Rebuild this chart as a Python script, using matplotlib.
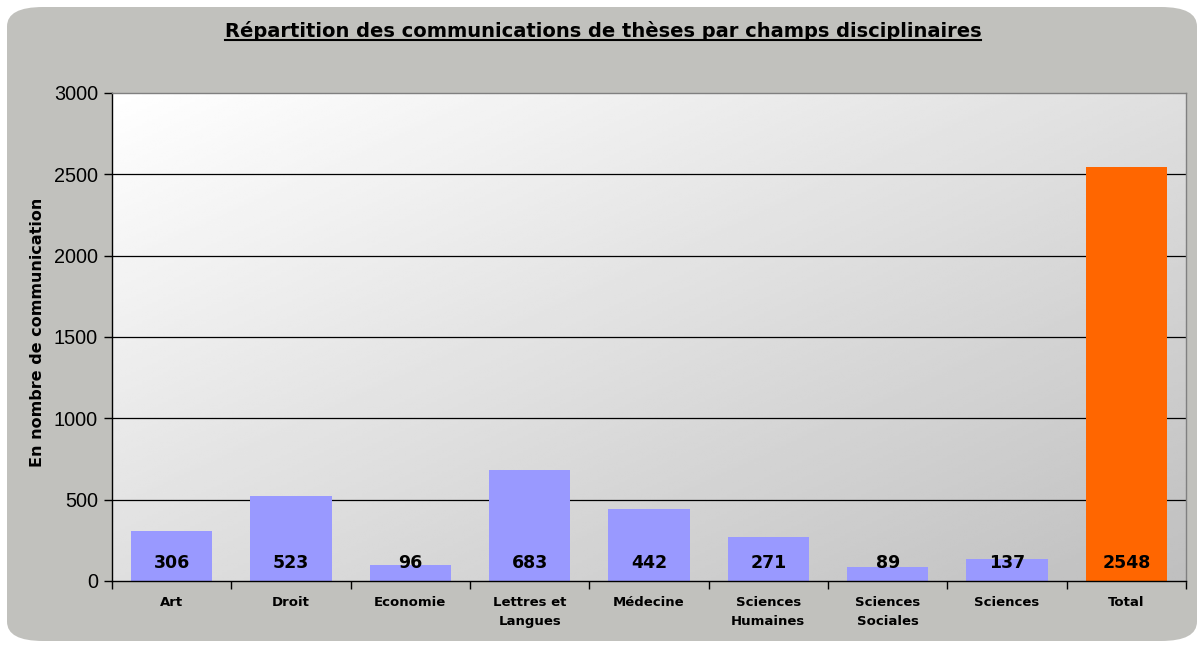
import matplotlib.pyplot as plt
import numpy as np
from matplotlib.patches import FancyBboxPatch
from matplotlib.transforms import Bbox

categories = ['Art', 'Droit', 'Economie', 'Lettres et\nLangues', 'Médecine',
              'Sciences\nHumaines', 'Sciences\nSociales', 'Sciences', 'Total']
values = [306, 523, 96, 683, 442, 271, 89, 137, 2548]
bar_colors = ['#9999ff'] * 8 + ['#ff6600']
yticks = [0, 500, 1000, 1500, 2000, 2500, 3000]

W, H = 1204, 645
fig = plt.figure(figsize=(W / 100, H / 100), dpi=100)
fig.patch.set_facecolor('white')

# grey rounded panel behind everything
panel = FancyBboxPatch((7 / W, 4 / H), 1190 / W, 634 / H,
                       boxstyle='round,pad=0,rounding_size=0.03',
                       transform=fig.transFigure, facecolor='#c1c1bd',
                       edgecolor='none', zorder=-5)
fig.patches.append(panel)

ax = fig.add_axes([112 / W, 1 - 581 / H, 1074 / W, 488 / H])
ax.set_zorder(2)
ax.set_facecolor('none')

# diagonal white -> light grey gradient in the plot area
gx, gy = np.meshgrid(np.linspace(0, 1, 200), np.linspace(0, 1, 200))
shade = 1 - 0.25 * (gx + gy) / 2
ax.imshow(shade, cmap='gray', vmin=0, vmax=1, extent=[0, 1, 0, 1],
          transform=ax.transAxes, aspect='auto', zorder=0, origin='upper',
          interpolation='bilinear')

x = np.arange(len(categories))
ax.bar(x, values, width=0.68, color=bar_colors, zorder=3)
ax.set_xlim(-0.5, len(categories) - 0.5)
ax.set_ylim(0, 3000)

for i, v in enumerate(values):
    ax.annotate(str(v), (x[i], 0), xytext=(0, 13), textcoords='offset points',
                ha='center', va='center', fontsize=12.5, fontweight='bold',
                family='DejaVu Sans', zorder=4)

ax.set_yticks(yticks)
ax.set_yticklabels([str(t) for t in yticks], family='Liberation Sans', fontsize=14.3)
for t in yticks[1:-1]:
    ax.axhline(t, color='black', lw=0.9, zorder=1)

ax.set_xticks(x)
ax.set_xticklabels(categories, fontsize=9.5, fontweight='bold', family='DejaVu Sans',
                   linespacing=1.6)
ax.tick_params(axis='x', length=0, pad=11)
ax.set_xticks(np.arange(len(categories) + 1) - 0.5, minor=True)
ax.tick_params(axis='x', which='minor', length=6, direction='out', width=1)
ax.tick_params(axis='y', length=6, direction='out', width=1, pad=4)

ax.spines['top'].set_color('#808080')
ax.spines['right'].set_color('#808080')
ax.spines['left'].set_color('black')
ax.spines['bottom'].set_color('black')
for s in ax.spines.values():
    s.set_linewidth(1)
    s.set_zorder(5)

# y label, clipped at the top like the original
yl = fig.text(38 / W, 1 - 328 / H, 'En nombre de communications', rotation=90,
              ha='center', va='center', fontsize=11.5, fontweight='bold',
              family='DejaVu Sans', zorder=3)
yl.set_clip_box(Bbox([[0, 0], [W, H - 200]]))
yl.set_clip_on(True)

title = fig.text(603 / W, 1 - 31 / H,
                 'Répartition des communications de thèses par champs disciplinaires',
                 ha='center', va='center', fontsize=14, fontweight='bold',
                 family='DejaVu Sans', zorder=3)

fig.canvas.draw()
bb = title.get_window_extent()
fig.add_artist(plt.Line2D([bb.x0 / W, bb.x1 / W], [(bb.y0 + 1) / H, (bb.y0 + 1) / H],
                          color='black', lw=1.5, transform=fig.transFigure, zorder=3))

fig.savefig('out.png', dpi=100, facecolor='white')
